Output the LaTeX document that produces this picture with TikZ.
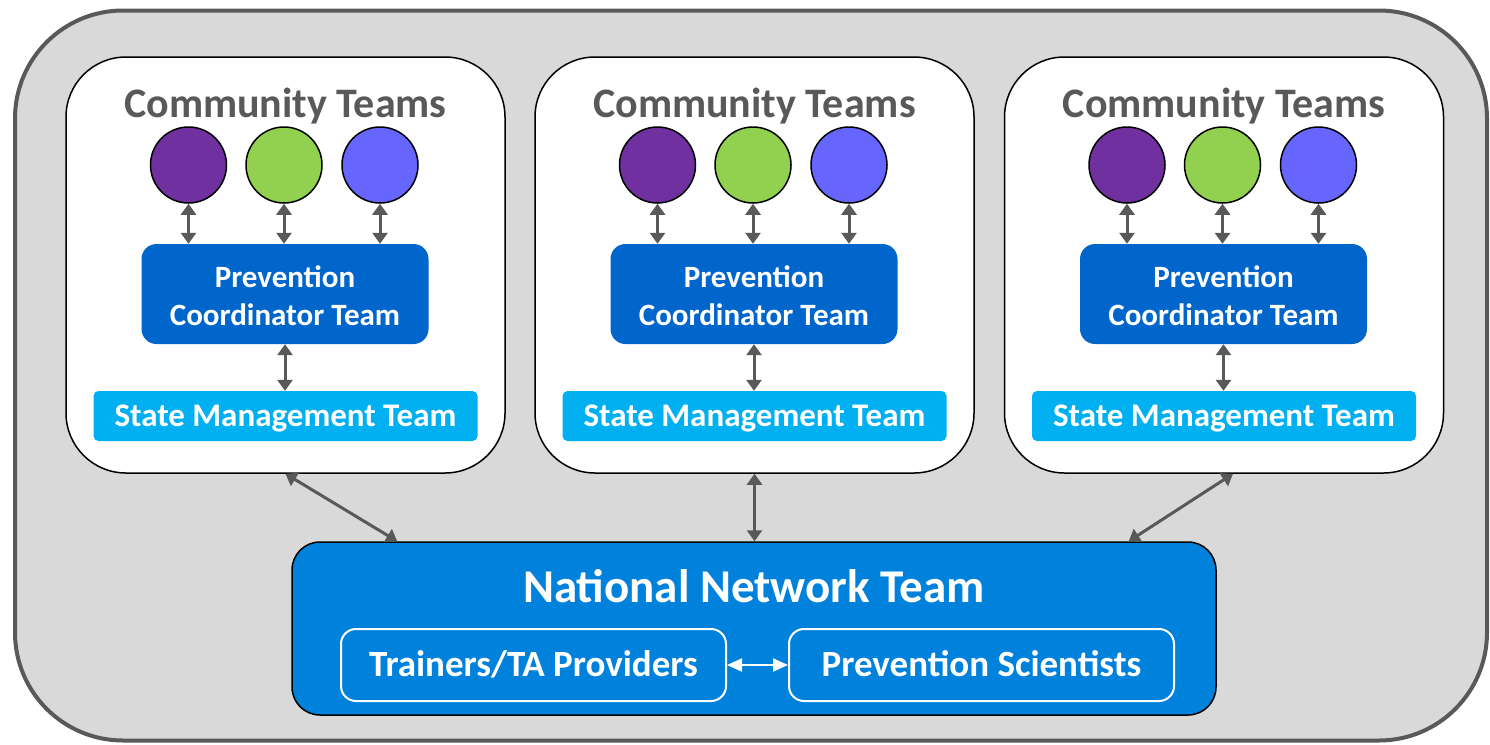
\documentclass[tikz,border=0pt]{standalone}
\usepackage{fontspec}
\setmainfont{Carlito}
\usetikzlibrary{arrows.meta}
\definecolor{outerfill}{HTML}{D9D9D9}
\definecolor{outerline}{HTML}{595959}
\definecolor{titlegray}{HTML}{595959}
\definecolor{linkgray}{HTML}{595959}
\definecolor{pctblue}{HTML}{0066CC}
\definecolor{smtblue}{HTML}{00B0F0}
\definecolor{nntblue}{HTML}{0082DC}
\definecolor{dotpurple}{HTML}{7030A0}
\definecolor{dotgreen}{HTML}{92D050}
\definecolor{dotblue}{HTML}{6666FF}
\tikzset{
  outerbox/.style={draw=outerline, fill=outerfill, line width=4pt, rounded corners=108pt,
    minimum width=1472pt, minimum height=730pt, inner sep=0pt},
  ctbox/.style={draw=black, fill=white, line width=1.5pt, rounded corners=60pt,
    minimum width=439pt, minimum height=416pt, inner sep=0pt},
  cttitle/.style={text=titlegray, font=\fontsize{42}{50}\selectfont\bfseries,
    text height=27pt, text depth=0pt, inner sep=0pt},
  dot/.style={circle, draw=black, line width=1.5pt, minimum size=76pt, inner sep=0pt},
  pctbox/.style={fill=pctblue, rounded corners=15pt, minimum width=287pt, minimum height=100pt,
    text=white, font=\fontsize{31}{38}\selectfont\bfseries, align=center, inner sep=0pt,
    text height=62pt, text depth=0pt},
  smtbox/.style={fill=smtblue, rounded corners=5pt, minimum width=384pt, minimum height=50pt,
    text=white, font=\fontsize{33}{40}\selectfont\bfseries, inner sep=0pt,
    text height=21pt, text depth=0pt},
  nntbox/.style={fill=nntblue, draw=black, line width=1.5pt, rounded corners=28pt,
    minimum width=924pt, minimum height=173pt, inner sep=0pt},
  nnttitle/.style={text=white, font=\fontsize{47}{56}\selectfont\bfseries,
    text height=29.7pt, text depth=0pt, inner sep=0pt},
  subbox/.style={draw=white, line width=2pt, rounded corners=15pt, minimum width=385pt,
    minimum height=72pt, text=white, font=\fontsize{37}{44}\selectfont\bfseries,
    text height=23.4pt, text depth=0pt, inner sep=0pt},
  link/.style={draw=linkgray, line width=3pt,
    {Triangle[width=15pt,length=11pt]}-{Triangle[width=15pt,length=11pt]}},
  wlink/.style={draw=white, line width=2pt,
    {Triangle[width=13pt,length=15pt]}-{Triangle[width=13pt,length=15pt]}}
}
\begin{document}
\begin{tikzpicture}[x=1pt,y=-1pt]
\useasboundingbox (0,0) rectangle (1490,744);
\node[outerbox] (outer) at (751,375.5) {};

\foreach \i/\cx in {1/285.5,2/754.5,3/1224}{
  \node[ctbox] (ct\i) at (\cx,265) {};
  \node[cttitle] (ctt\i) at (\cx,103.5) {Community Teams};
  \node[dot, fill=dotpurple] (ca\i) at (\cx-97,165) {};
  \node[dot, fill=dotgreen]  (cb\i) at (\cx-1.5,165) {};
  \node[dot, fill=dotblue]   (cc\i) at (\cx+94.5,165) {};
  \node[pctbox] (pct\i) at (\cx-0.5,294) {Prevention\\Coordinator Team};
  \node[smtbox] (smt\i) at (\cx,416) {State Management Team};
  \draw[link] (ca\i.south) -- (ca\i.south |- pct\i.north);
  \draw[link] (cb\i.south) -- (cb\i.south |- pct\i.north);
  \draw[link] (cc\i.south) -- (cc\i.south |- pct\i.north);
  \draw[link] (pct\i.south) -- (pct\i.south |- smt\i.north);
}

\node[nntbox] (nnt) at (754,628.5) {};
\node[nnttitle] (nntt) at (754,588) {National Network Team};
\node[subbox] (tr) at (533.5,665) {Trainers/TA Providers};
\node[subbox] (ps) at (981.5,665) {Prevention Scientists};
\draw[wlink] (tr.east) -- (ps.west);

\coordinate (nl) at ([xshift=106pt]nnt.north west);
\coordinate (nr) at ([xshift=-88pt]nnt.north east);
\draw[link] (ct1.south) -- (nl);
\draw[link] (ct2.south) -- (ct2.south |- nnt.north);
\draw[link] ([xshift=9pt]ct3.south) -- (nr);
\end{tikzpicture}
\end{document}
